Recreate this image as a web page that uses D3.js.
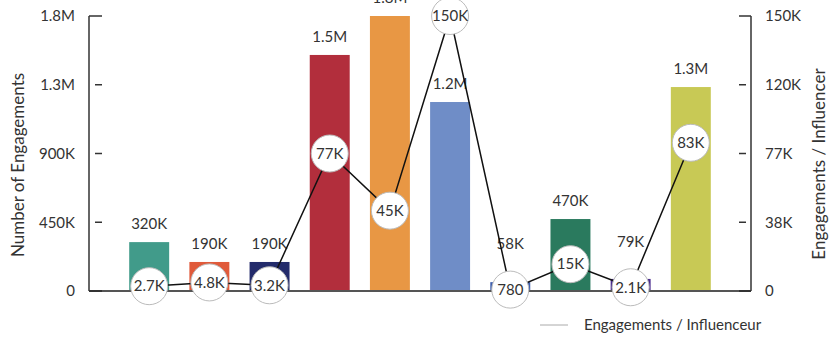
<!DOCTYPE html>
<html>
<head>
<meta charset="utf-8">
<script src="https://cdn.jsdelivr.net/npm/d3@7/dist/d3.min.js"></script>
<style>
  html, body { margin: 0; padding: 0; background: #fff; }
  svg { display: block; font-family: Lato, "Open Sans", sans-serif; }
</style>
</head>
<body>
<svg id="chart" width="830" height="338"></svg>
<script>
// Influencer categories (one bar each)
const categories = ["A", "B", "C", "D", "E", "F", "G", "H", "I", "J"];
// Total engagements per category (left axis)
const engagements = [320000, 190000, 190000, 1545000, 1800000, 1237000, 58000, 471000, 79000, 1335000];
// Engagements per influencer (right axis, line)
const perInfluencer = [2700, 4800, 3200, 77000, 45000, 154000, 780, 15000, 2100, 83000];
// Bar fill colours
const barColors = ["#419b8a", "#e05a3a", "#232b6b", "#b22e3c", "#e89744", "#6f8dc7", "#3f5fae", "#2a7a5e", "#4b2d8f", "#c8c955"];
// Axis ticks
const leftTicks = [0, 450000, 900000, 1350000, 1800000];
const leftTickLabels = ["0", "450K", "900K", "1.3M", "1.8M"];
const rightTicks = [0, 38500, 77000, 115500, 154000];
const rightTickLabels = ["0", "38K", "77K", "120K", "150K"];

const svg = d3.select("#chart");
const plotLeft = 89, plotRight = 751, plotTop = 16, plotBottom = 291;
const markerR = 18.5;

const x = d3.scaleBand().domain(categories).range([plotLeft, plotRight])
  .paddingInner(0.336).paddingOuter(0.668);
const yL = d3.scaleLinear().domain([0, 1800000]).range([plotBottom, plotTop]);
const yR = d3.scaleLinear().domain([0, 154000]).range([plotBottom, plotTop]);
const fmt = d3.format(".2s");
const label = v => v >= 1000 ? fmt(v).replace("k", "K") : String(v);
const cx = d => x(d) + x.bandwidth() / 2;

// Bars
svg.append("g").selectAll("rect").data(categories).join("rect")
  .attr("x", d => x(d))
  .attr("width", x.bandwidth())
  .attr("y", (d, i) => yL(engagements[i]))
  .attr("height", (d, i) => plotBottom - yL(engagements[i]))
  .attr("fill", (d, i) => barColors[i]);

// Bar value labels; lifted above the marker when the bar top sits inside it
function labelY(i) {
  const barTop = yL(engagements[i]);
  const cy = yR(perInfluencer[i]);
  if (barTop > cy - markerR && barTop < cy + markerR) return cy - markerR - 22;
  return barTop - 13;
}
svg.append("g").selectAll("text").data(categories).join("text")
  .attr("x", cx)
  .attr("y", (d, i) => labelY(i))
  .attr("text-anchor", "middle")
  .attr("font-size", 15)
  .attr("fill", "#333")
  .text((d, i) => label(engagements[i]));

// Baseline
svg.append("line").attr("x1", plotLeft).attr("x2", plotRight)
  .attr("y1", plotBottom).attr("y2", plotBottom)
  .attr("stroke", "#555").attr("stroke-width", 2);

// Left axis
const gL = svg.append("g");
gL.append("line").attr("x1", plotLeft).attr("x2", plotLeft).attr("y1", plotTop).attr("y2", plotBottom)
  .attr("stroke", "#333").attr("stroke-width", 1.5);
gL.selectAll("line.tick").data(leftTicks).join("line").attr("class", "tick")
  .attr("x1", (d, i) => (i === 0 || i === leftTicks.length - 1) ? plotLeft : plotLeft + 6)
  .attr("x2", plotLeft + 13)
  .attr("y1", d => yL(d)).attr("y2", d => yL(d))
  .attr("stroke", "#333").attr("stroke-width", (d, i) => i === 0 ? 2 : 1.5);
gL.selectAll("text").data(leftTicks).join("text")
  .attr("x", 75).attr("y", d => yL(d)).attr("dy", "0.35em")
  .attr("text-anchor", "end").attr("font-size", 15).attr("fill", "#333")
  .text((d, i) => leftTickLabels[i]);

// Right axis
const gR = svg.append("g");
gR.append("line").attr("x1", plotRight).attr("x2", plotRight).attr("y1", plotTop).attr("y2", plotBottom)
  .attr("stroke", "#333").attr("stroke-width", 1.5);
gR.selectAll("line.tick").data(rightTicks).join("line").attr("class", "tick")
  .attr("x1", plotRight - 12)
  .attr("x2", (d, i) => (i === 0 || i === rightTicks.length - 1) ? plotRight : plotRight - 5)
  .attr("y1", d => yR(d)).attr("y2", d => yR(d))
  .attr("stroke", "#333").attr("stroke-width", (d, i) => i === 0 ? 2 : 1.5);
gR.selectAll("text").data(rightTicks).join("text")
  .attr("x", 765).attr("y", d => yR(d)).attr("dy", "0.35em")
  .attr("text-anchor", "start").attr("font-size", 15).attr("fill", "#333")
  .text((d, i) => rightTickLabels[i]);

// Axis titles
svg.append("text")
  .attr("transform", "translate(24,165) rotate(-90)")
  .attr("text-anchor", "middle").attr("font-size", 17).attr("fill", "#333")
  .text("Number of Engagements");
svg.append("text")
  .attr("transform", "translate(825,164) rotate(-90)")
  .attr("text-anchor", "middle").attr("font-size", 17).attr("fill", "#333")
  .text("Engagements / Influencer");

// Line for engagements per influencer
const line = d3.line()
  .x((d, i) => cx(categories[i]))
  .y(d => yR(d));
svg.append("path").datum(perInfluencer)
  .attr("d", line).attr("fill", "none")
  .attr("stroke", "#111").attr("stroke-width", 1.5);

// Point markers with values
const pts = svg.append("g").selectAll("g").data(perInfluencer).join("g")
  .attr("transform", (d, i) => `translate(${cx(categories[i])},${yR(d)})`);
pts.append("circle").attr("r", markerR)
  .attr("fill", "#fff").attr("stroke", "#bbb").attr("stroke-width", 1);
pts.append("text").attr("text-anchor", "middle").attr("dy", "0.35em")
  .attr("font-size", 15).attr("fill", "#333")
  .text(d => label(d));

// Legend
const lg = svg.append("g");
lg.append("line").attr("x1", 540).attr("x2", 568).attr("y1", 325).attr("y2", 325)
  .attr("stroke", "#aaa").attr("stroke-width", 1);
lg.append("text").attr("x", 584).attr("y", 325).attr("dy", "0.35em")
  .attr("font-size", 15).attr("fill", "#333")
  .text("Engagements / Influenceur");
</script>
</body>
</html>
